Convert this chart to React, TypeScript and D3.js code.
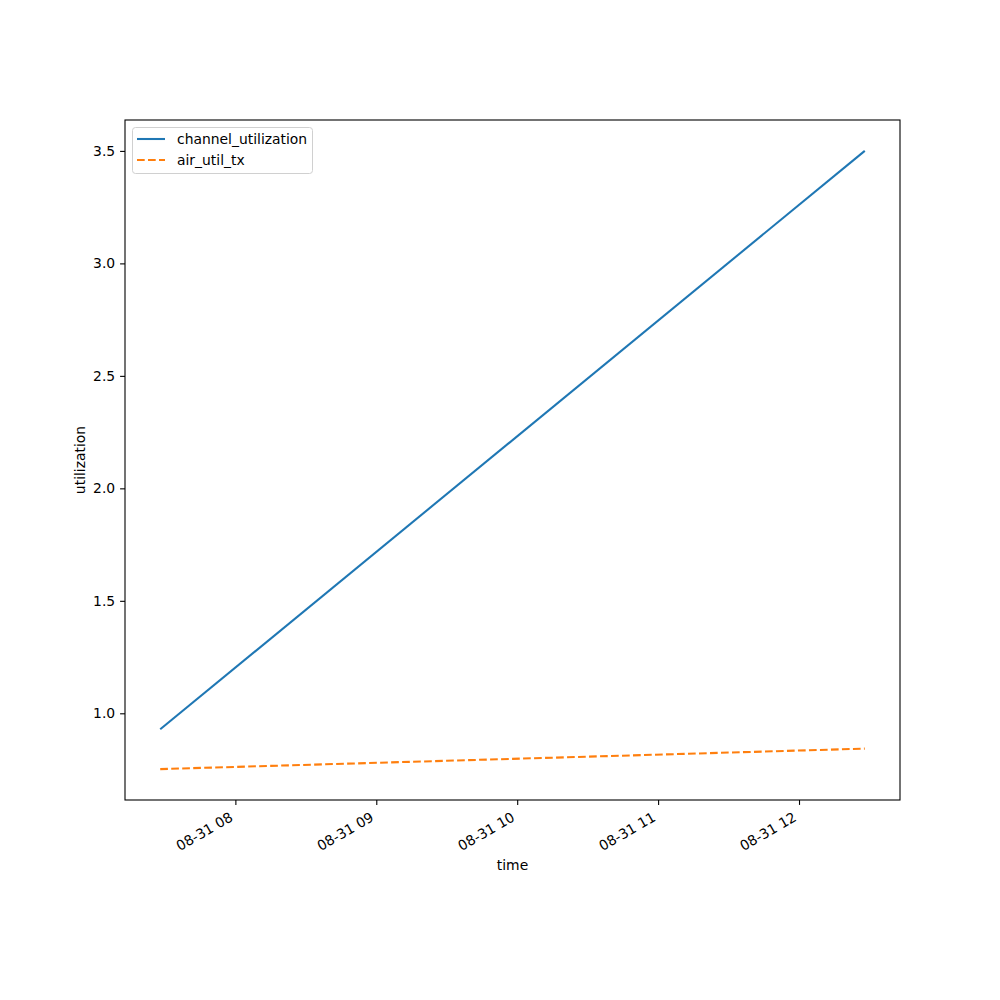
import * as d3 from 'd3'
import {useRef, useEffect} from 'react'

const times: Date[] = [new Date(2024, 7, 31, 7, 28), new Date(2024, 7, 31, 12, 28)]
const channelUtilization: number[] = [0.929, 3.5]
const airUtilTx: number[] = [0.752, 0.843]
const seriesNames: string[] = ['channel_utilization', 'air_util_tx']
const yTicks: number[] = [1.0, 1.5, 2.0, 2.5, 3.0, 3.5]
const xTicks: Date[] = [8, 9, 10, 11, 12].map(h => new Date(2024, 7, 31, h))

const App = () => {
  const svgRef = useRef(null)
  const width = 1000
  const height = 1000
  const margin = {left: 125, right: 100, top: 120, bottom: 200}

  useEffect(() => {
    const svg = d3.select(svgRef.current)
    svg.selectAll('*').remove()
    const font = 'DejaVu Sans, sans-serif'

    const t0 = +times[0], t1 = +times[times.length - 1]
    const tp = (t1 - t0) * 0.05
    const xScale = d3.scaleTime()
      .domain([new Date(t0 - tp), new Date(t1 + tp)])
      .range([margin.left, width - margin.right])

    const all = [...channelUtilization, ...airUtilTx]
    const ymin = d3.min(all)!, ymax = d3.max(all)!
    const yp = (ymax - ymin) * 0.05
    const yScale = d3.scaleLinear()
      .domain([ymin - yp, ymax + yp])
      .range([height - margin.bottom, margin.top])

    svg.append('rect')
      .attr('width', width).attr('height', height).attr('fill', 'white')

    const line = d3.line<number>()
      .x((d, i) => xScale(times[i]))
      .y(d => yScale(d))

    svg.append('path')
      .attr('d', line(channelUtilization))
      .attr('fill', 'none').attr('stroke', '#1f77b4').attr('stroke-width', 2.08)
    svg.append('path')
      .attr('d', line(airUtilTx))
      .attr('fill', 'none').attr('stroke', '#ff7f0e').attr('stroke-width', 2.08)
      .attr('stroke-dasharray', '7.7,3.3')

    const xAxis = d3.axisBottom(xScale)
      .tickValues(xTicks)
      .tickFormat(d3.timeFormat('%m-%d %H') as any)
      .tickSize(4.9).tickPadding(4.9)
    const gx = svg.append('g')
      .attr('transform', `translate(0,${height - margin.bottom})`)
      .call(xAxis)
    gx.select('.domain').remove()
    gx.selectAll('line').attr('stroke', 'black').attr('stroke-width', 1.1)
    gx.selectAll('text')
      .attr('font-family', font).attr('font-size', 13.9).attr('fill', 'black')
      .attr('text-anchor', 'end')
      .attr('x', 0).attr('y', 0).attr('dy', 0)
      .attr('transform', 'translate(-2,20) rotate(-30)')

    const yAxis = d3.axisLeft(yScale)
      .tickValues(yTicks)
      .tickFormat(d3.format('.1f') as any)
      .tickSize(4.9).tickPadding(4.9)
    const gy = svg.append('g')
      .attr('transform', `translate(${margin.left},0)`)
      .call(yAxis)
    gy.select('.domain').remove()
    gy.selectAll('line').attr('stroke', 'black').attr('stroke-width', 1.1)
    gy.selectAll('text')
      .attr('font-family', font).attr('font-size', 13.9).attr('fill', 'black')

    svg.append('rect')
      .attr('x', margin.left).attr('y', margin.top)
      .attr('width', width - margin.left - margin.right)
      .attr('height', height - margin.top - margin.bottom)
      .attr('fill', 'none').attr('stroke', 'black').attr('stroke-width', 1.1)

    svg.append('text')
      .attr('x', (margin.left + width - margin.right) / 2).attr('y', 870)
      .attr('text-anchor', 'middle')
      .attr('font-family', font).attr('font-size', 13.9)
      .text('time')
    svg.append('text')
      .attr('transform', `translate(85,${(margin.top + height - margin.bottom) / 2}) rotate(-90)`)
      .attr('text-anchor', 'middle')
      .attr('font-family', font).attr('font-size', 13.9)
      .text('utilization')

    const lg = svg.append('g')
    lg.append('rect')
      .attr('x', 132.5).attr('y', 127.5).attr('width', 180).attr('height', 46).attr('rx', 3)
      .attr('fill', 'white').attr('fill-opacity', 0.8)
      .attr('stroke', '#d0d0d0').attr('stroke-width', 1)
    const colors = ['#1f77b4', '#ff7f0e']
    seriesNames.forEach((name, i) => {
      const yy = 139 + i * 21
      lg.append('line')
        .attr('x1', 137).attr('x2', 165).attr('y1', yy).attr('y2', yy)
        .attr('stroke', colors[i]).attr('stroke-width', 2.08)
        .attr('stroke-dasharray', i === 1 ? '7.7,3.3' : null)
      lg.append('text')
        .attr('x', 177).attr('y', yy).attr('dy', '0.35em')
        .attr('font-family', font).attr('font-size', 13.9)
        .text(name)
    })
  }, [])

  return <svg ref={svgRef} width={width} height={height} style={{display: 'block', margin: -8}}></svg>
}

export default App
